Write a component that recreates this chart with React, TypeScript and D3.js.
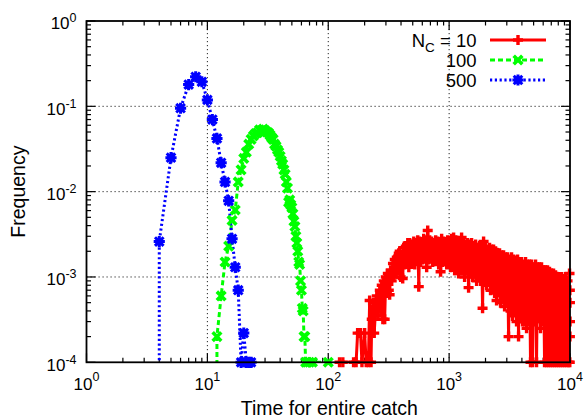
import React from "react";
import * as d3 from "d3";

const W = 584;
const H = 419;

const xTickValues = [1, 10, 100, 1000, 10000];
const xTickExponents = ["0", "1", "2", "3", "4"];
const yTickValues = [1e-4, 1e-3, 1e-2, 1e-1, 1];
const yTickExponents = ["-4", "-3", "-2", "-1", "0"];
const gridX = [10, 100, 1000];
const gridY = [1e-3, 1e-2, 1e-1];

const legendLabels = ["10", "100", "500"];

// N_C = 500 (first point repeated below the axis: the trace drops straight down)
const blueX = [4, 4, 5, 6, 7, 8, 9, 10, 11, 12, 13, 14, 15, 16, 17, 18, 19, 20, 21, 22, 23];
const blueY = [1e-6, 0.0026, 0.025, 0.095, 0.18, 0.222, 0.194, 0.119, 0.07, 0.042, 0.0218, 0.013, 0.0078, 0.0028, 0.0013, 0.0007, 0.0001, 0.00022, 0.0001, 0.0001, 0.0001];

// N_C = 100
const greenX = [12, 12, 13, 14, 15, 16, 17, 18, 19, 20, 21, 22, 23, 24, 25, 26, 27, 28, 29, 30, 31, 32, 33, 34, 35, 36, 37, 38, 39, 40, 41, 42, 43, 44, 45, 46, 47, 48, 49, 50, 51, 52, 53, 54, 55, 56, 57, 58, 59, 60, 61, 62, 63, 64, 65, 67, 70, 74, 100];
const greenY = [1e-6, 2.0e-4, 6.0e-4, 1.5e-3, 2.3e-3, 4.6e-3, 6.1e-3, 1.3e-2, 1.8e-2, 2.45e-2, 2.9e-2, 3.6e-2, 4.1e-2, 4.5e-2, 4.8e-2, 4.9e-2, 5.3e-2, 5.2e-2, 5.4e-2, 5.2e-2, 5.0e-2, 4.9e-2, 4.6e-2, 4.3e-2, 4.1e-2, 3.6e-2, 3.4e-2, 3.1e-2, 2.9e-2, 2.6e-2, 2.3e-2, 2.1e-2, 1.8e-2, 1.6e-2, 1.3e-2, 1.1e-2, 7.5e-3, 8.0e-3, 7.0e-3, 6.5e-3, 5.5e-3, 4.5e-3, 3.9e-3, 3.0e-3, 2.5e-3, 2.0e-3, 1.5e-3, 1.4e-3, 9.0e-4, 7.0e-4, 4.3e-4, 4.0e-4, 2.0e-4, 2.0e-4, 1e-4, 1e-4, 1e-4, 1e-4, 1e-4];

// N_C = 10 (noisy histogram)
const redX = [
  124, 132, 162, 170, 175, 185, 190, 200, 206, 215, 220, 226, 229, 236, 240, 247, 252, 257, 262, 267,
  272, 277, 283, 288, 293, 299, 305, 311, 317, 322, 328, 335, 343, 348, 355, 362, 369, 376, 383,
  390, 397, 405, 413, 421, 429, 438, 446, 455, 464, 472, 481, 491, 500, 510, 520, 530, 540, 550, 561,
  570, 581, 593, 604, 616, 628, 640, 652, 665, 678, 690, 703, 717, 731, 745, 759, 774, 789, 804, 819,
  834, 850, 867, 884, 901, 918, 936, 954, 972, 991, 1008, 1027, 1048, 1068, 1089, 1110, 1131, 1153, 1175, 1198,
  1221, 1244, 1268, 1292, 1318, 1343, 1369, 1395, 1422, 1449, 1476, 1504, 1534, 1563, 1594, 1624, 1656, 1688, 1720, 1753,
  1786, 1820, 1856, 1891, 1928, 1965, 2003, 2041, 2080, 2120, 2160, 2201, 2245, 2288, 2332, 2377, 2423, 2469, 2517, 2565,
  2613, 2663, 2716, 2768, 2822, 2876, 2931, 2987, 3045, 3103, 3160, 3220, 3284, 3347, 3412, 3477, 3544, 3612, 3682, 3752,
  3825, 3898, 3974, 4050, 4128, 4207, 4289, 4371, 4455, 4540, 4625, 4713, 4808, 4900, 4994, 5089, 5188, 5287, 5390, 5493,
  5595, 5702, 5816, 5927, 6042, 6157, 6276, 6396, 6520, 6644, 6770, 6899, 7036, 7170, 7310, 7449, 7593, 7738, 7888, 8038,
  8190, 8346, 8512, 8674, 8843, 9011, 9186, 9361, 9543, 9725, 9910, 9960, 9975, 9985, 9992, 10000,
];
const redY = [
  1e-4, 1e-4, 1e-4, 1e-4, 2.2e-4, 2.2e-4, 1e-4, 2.2e-4, 1e-4, 1e-4, 5.3e-4, 1e-4, 3.2e-4, 5e-4, 2.2e-4, 4.5e-4, 6e-4, 3.5e-4, 5.5e-4, 7e-4,
  4e-4, 8e-4, 3.2e-4, 9e-4, 3.2e-4, 1.0e-3, 6.5e-4, 1.1e-3, 7e-4, 6.2e-4, 1.2e-3, 9e-4, 1.44e-3, 1.0e-3, 1.6e-3, 1.1e-3, 1.7e-3, 1.2e-3, 1.9e-3,
  2.0e-3, 1.0e-3, 1.8e-3, 9.6e-4, 2.2e-3, 1.4e-3, 2.3e-3, 1.5e-3, 2.5e-3, 1.3e-3, 2.5e-3, 1.6e-3, 2.4e-3, 1.5e-3, 2.6e-3, 1.4e-3, 2.5e-3, 1.6e-3, 2.7e-3, 7.7e-4,
  2.6e-3, 1.5e-3, 2.5e-3, 1.6e-3, 2.8e-3, 1.7e-3, 2.7e-3, 1.3e-3, 3.5e-3, 1.6e-3, 2.7e-3, 1.7e-3, 2.6e-3, 1.5e-3, 2.5e-3, 1.7e-3, 2.7e-3, 1.6e-3, 2.6e-3, 1.4e-3,
  2.5e-3, 1.15e-3, 2.8e-3, 1.5e-3, 2.6e-3, 1.6e-3, 2.5e-3, 1.4e-3, 2.7e-3, 1.5e-3, 2.6e-3, 1.3e-3, 2.8e-3, 1.4e-3, 2.9e-3, 1.2e-3, 2.7e-3, 1.3e-3, 2.6e-3, 1.1e-3,
  2.6e-3, 1.3e-3, 2.9e-3, 1.2e-3, 2.5e-3, 1.0e-3, 2.4e-3, 1.2e-3, 2.5e-3, 7.5e-4, 2.4e-3, 1.1e-3, 2.5e-3, 1.0e-3, 2.3e-3, 1.1e-3, 2.4e-3, 9.0e-4, 2.2e-3, 1.0e-3,
  2.3e-3, 9.0e-4, 2.2e-3, 4.3e-4, 2.6e-3, 9.0e-4, 2.2e-3, 8.0e-4, 2.1e-3, 9.0e-4, 2.2e-3, 7.0e-4, 2.1e-3, 8.0e-4, 2.1e-3, 6.5e-4, 2.0e-3, 5.3e-4, 1.9e-3, 7.0e-4,
  1.9e-3, 5.0e-4, 1.8e-3, 6.0e-4, 1.8e-3, 4.5e-4, 1.7e-3, 5.0e-4, 1.7e-3, 2.0e-4, 1.6e-3, 4.0e-4, 1.7e-3, 3.5e-4, 1.6e-3, 4.0e-4, 1.5e-3, 3.0e-4, 1.6e-3, 2.0e-4,
  1.5e-3, 3.5e-4, 1.5e-3, 3.0e-4, 1.4e-3, 3.0e-4, 1.5e-3, 2.5e-4, 1.4e-3, 3.0e-4, 1.4e-3, 1.0e-4, 1.4e-3, 1.0e-4, 1.3e-3, 3.0e-4, 1.4e-3, 1.0e-4, 1.3e-3, 3.5e-4,
  1.3e-3, 2.5e-4, 1.3e-3, 3.0e-4, 1.2e-3, 1.0e-4, 1.2e-3, 1.0e-4, 1.2e-3, 1.0e-4, 1.15e-3, 1.0e-4, 1.1e-3, 1.0e-4, 1.1e-3, 1.0e-4, 1.05e-3, 1.0e-4, 1.0e-3, 1.0e-4,
  1.0e-3, 1.0e-4, 1.0e-3, 1.0e-4, 9.5e-4, 1.0e-4, 1.0e-3, 1.0e-4, 9.0e-4, 1.0e-4, 1.1e-3, 1.0e-4, 7e-4, 2e-4, 5e-4, 3e-4,
];

const FONT = "'Liberation Sans', Arial, Helvetica, sans-serif";
const RED = "#ff0000";
const GREEN = "#00ff00";
const BLUE = "#0000ff";

type Pt = [number, number];

function zip(xs: number[], ys: number[]): Pt[] {
  return xs.map((v, i) => [v, ys[i]] as Pt);
}

function Marker({ kind, cx, cy, color }: { kind: string; cx: number; cy: number; color: string }) {
  if (kind === "plus") {
    const s = 5;
    return (
      <path d={`M${cx - s},${cy}H${cx + s}M${cx},${cy - s}V${cy + s}`} stroke={color} strokeWidth={3.4} fill="none" />
    );
  }
  if (kind === "cross") {
    const s = 4.3;
    return (
      <path
        d={`M${cx - s},${cy - s}L${cx + s},${cy + s}M${cx - s},${cy + s}L${cx + s},${cy - s}`}
        stroke={color}
        strokeWidth={3.6}
        fill="none"
      />
    );
  }
  const s = 5.6;
  const t = 4.3;
  return (
    <g>
      <rect x={cx - 3.6} y={cy - 3.6} width={7.2} height={7.2} fill={color} />
      <path
        d={`M${cx - s},${cy}H${cx + s}M${cx},${cy - s}V${cy + s}M${cx - t},${cy - t}L${cx + t},${cy + t}M${cx - t},${cy + t}L${cx + t},${cy - t}`}
        stroke={color}
        strokeWidth={3}
        fill="none"
      />
    </g>
  );
}

export default function App() {
  const left = 86.5;
  const right = 570;
  const top = 21;
  const bottom = 362.3;
  const x = d3.scaleLog().domain([1, 1e4]).range([left, right]);
  const y = d3.scaleLog().domain([1e-4, 1]).range([bottom, top]);
  const line = d3
    .line<Pt>()
    .x((d) => x(d[0]))
    .y((d) => y(d[1]));

  const series = [
    { pts: zip(redX, redY), color: RED, dash: undefined as string | undefined, marker: "plus" },
    { pts: zip(greenX, greenY), color: GREEN, dash: "5,3", marker: "cross" },
    { pts: zip(blueX, blueY), color: BLUE, dash: "2.2,2.6", marker: "star" },
  ];

  const minorX: number[] = [];
  for (const d of [1, 10, 100, 1000]) for (let k = 2; k <= 9; k++) minorX.push(d * k);
  const minorY: number[] = [];
  for (const d of [1e-4, 1e-3, 1e-2, 1e-1]) for (let k = 2; k <= 9; k++) minorY.push(d * k);

  const legendRows = [40, 60, 80];
  const tickFs = 17;
  const supFs = 12.5;
  const titleFs = 19.5;
  const legendFs = 18.5;

  return (
    <svg
      width={W}
      height={H}
      viewBox={`0 0 ${W} ${H}`}
      style={{ position: "absolute", left: 0, top: 0, background: "#fff" }}
      fontFamily={FONT}
    >
      <defs>
        <clipPath id="plotClip">
          <rect x={left} y={top} width={right - left} height={bottom - top} />
        </clipPath>
      </defs>
      <rect x={0} y={0} width={W} height={H} fill="#fff" />

      {/* grid */}
      <g stroke="#000" strokeWidth={1} strokeDasharray="1.2,2.8" opacity={0.85}>
        {gridX.map((v) => (
          <line key={"gx" + v} x1={x(v)} x2={x(v)} y1={top} y2={bottom} />
        ))}
        {gridY.map((v) => (
          <line key={"gy" + v} x1={left} x2={right} y1={y(v)} y2={y(v)} />
        ))}
      </g>

      {/* ticks */}
      <g stroke="#000" strokeWidth={1.2}>
        {xTickValues.map((v) => (
          <g key={"xt" + v}>
            <line x1={x(v)} x2={x(v)} y1={bottom} y2={bottom - 9} />
            <line x1={x(v)} x2={x(v)} y1={top} y2={top + 9} />
          </g>
        ))}
        {minorX.map((v) => (
          <g key={"xm" + v}>
            <line x1={x(v)} x2={x(v)} y1={bottom} y2={bottom - 4.5} />
            <line x1={x(v)} x2={x(v)} y1={top} y2={top + 4.5} />
          </g>
        ))}
        {yTickValues.map((v) => (
          <g key={"yt" + v}>
            <line x1={left} x2={left + 9} y1={y(v)} y2={y(v)} />
            <line x1={right} x2={right - 9} y1={y(v)} y2={y(v)} />
          </g>
        ))}
        {minorY.map((v) => (
          <g key={"ym" + v}>
            <line x1={left} x2={left + 4.5} y1={y(v)} y2={y(v)} />
            <line x1={right} x2={right - 4.5} y1={y(v)} y2={y(v)} />
          </g>
        ))}
      </g>

      {/* data lines */}
      <g clipPath="url(#plotClip)" fill="none" strokeLinejoin="miter">
        {series.map((s, i) => (
          <path key={"l" + i} d={line(s.pts) || ""} stroke={s.color} strokeWidth={3} strokeDasharray={s.dash} />
        ))}
      </g>
      {/* markers */}
      <g>
        {series.map((s, i) => (
          <g key={"m" + i}>
            {s.pts
              .filter((p) => p[1] >= 0.99e-4 && p[0] <= 1e4)
              .map((p, j) => (
                <Marker key={j} kind={s.marker} cx={x(p[0])} cy={y(p[1])} color={s.color} />
              ))}
          </g>
        ))}
      </g>

      {/* border */}
      <rect x={left} y={top} width={right - left} height={bottom - top} fill="none" stroke="#000" strokeWidth={1.8} />

      {/* y tick labels */}
      {yTickValues.map((v, i) => (
        <text key={"yl" + v} x={76.5} y={y(v) + 8.3} textAnchor="end" fontSize={tickFs} fill="#000">
          10
          <tspan dy={-7} fontSize={supFs}>
            {yTickExponents[i]}
          </tspan>
        </text>
      ))}
      {/* x tick labels */}
      {xTickValues.map((v, i) => (
        <text key={"xl" + v} x={x(v)} y={389.5} textAnchor="middle" fontSize={tickFs} fill="#000">
          10
          <tspan dy={-9} fontSize={supFs}>
            {xTickExponents[i]}
          </tspan>
        </text>
      ))}

      {/* axis titles */}
      <text x={(left + right) / 2 + 1} y={414.5} textAnchor="middle" fontSize={titleFs} fill="#000">
        Time for entire catch
      </text>
      <text
        transform={`translate(24.5,${(top + bottom) / 2}) rotate(-90)`}
        textAnchor="middle"
        fontSize={titleFs}
        fill="#000"
      >
        Frequency
      </text>

      {/* legend */}
      {series.map((s, i) => (
        <g key={"lg" + i}>
          <text x={476.5} y={legendRows[i] + 6.5} textAnchor="end" fontSize={legendFs} fill="#000">
            {i === 0 ? (
              <>
                N<tspan dy={5} fontSize={13.5}>C</tspan>
                <tspan dy={-5}>{" = " + legendLabels[i]}</tspan>
              </>
            ) : (
              legendLabels[i]
            )}
          </text>
          <line x1={490} x2={546} y1={legendRows[i]} y2={legendRows[i]} stroke={s.color} strokeWidth={3} strokeDasharray={s.dash} />
          <Marker kind={s.marker} cx={518} cy={legendRows[i]} color={s.color} />
        </g>
      ))}
    </svg>
  );
}
